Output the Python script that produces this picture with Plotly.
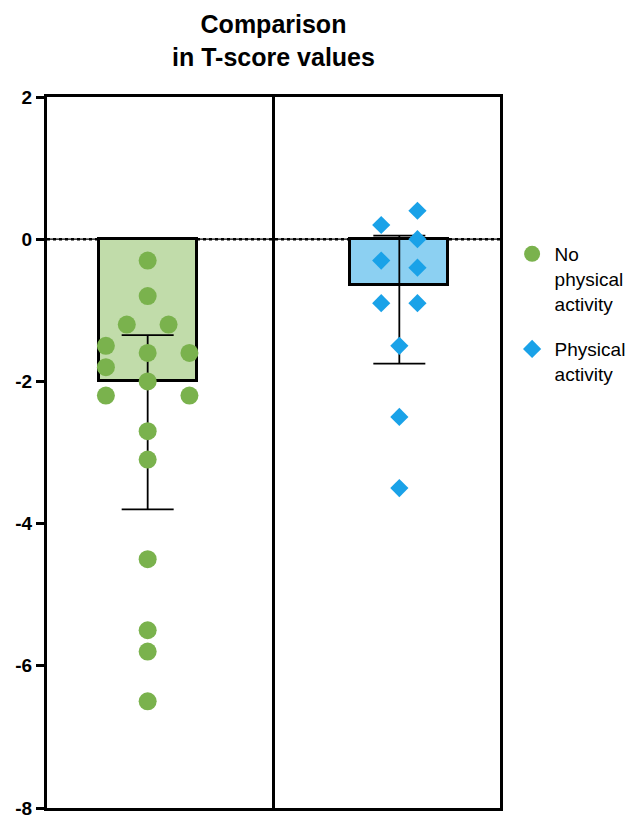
import numpy as np
import plotly.graph_objects as go

# ---- data ----
groups = ["No<br>physical<br>activity", "Physical<br>activity"]
no_activity = [-0.3, -0.8, -1.2, -1.2, -1.5, -1.6, -1.6, -1.8, -2.0, -2.2, -2.2,
               -2.7, -3.1, -4.5, -5.5, -5.8, -6.5]
activity = [0.4, 0.2, 0.0, -0.3, -0.4, -0.9, -0.9, -1.5, -2.5, -3.5]
y_ticks = [2, 0, -2, -4, -6, -8]

# ---- layout of dots (beeswarm columns) ----
no_cols = [0, 0, -1, 1, -2, 0, 2, -2, 0, -2, 2, 0, 0, 0, 0, 0, 0]
act_cols = [1, -1, 1, -1, 1, -1, 1, 0, 0, 0]

def stats(v):
    a = np.array(v)
    med = float(np.median(a))
    q1 = float(np.percentile(a, 25, method="weibull"))
    q3 = float(np.percentile(a, 75, method="weibull"))
    return med, q1, q3

m1, q1a, q3a = stats(no_activity)
m2, q1b, q3b = stats(activity)

GREEN = "rgb(122,178,77)"
GREEN_FILL = "rgb(193,220,170)"
BLUE = "rgb(26,162,232)"
BLUE_FILL = "rgb(140,208,242)"
FONT = "Liberation Sans, Arial, Helvetica, sans-serif"

fig = go.Figure()
fig.add_trace(go.Bar(
    x=[0, 1], y=[m1, m2], width=0.39,
    marker=dict(color=[GREEN_FILL, BLUE_FILL], line=dict(color="black", width=3)),
    error_y=dict(type="data", symmetric=False,
                 array=[q3a - m1, q3b - m2], arrayminus=[m1 - q1a, m2 - q1b],
                 color="black", thickness=1.8, width=26),
    showlegend=False, hoverinfo="skip",
))
fig.add_trace(go.Scatter(
    x=[0 + c * 0.083 for c in no_cols], y=no_activity, mode="markers",
    marker=dict(symbol="circle", size=18, color=GREEN),
    name=groups[0], legendgroup="g1",
))
fig.add_trace(go.Scatter(
    x=[1 + c * 0.072 for c in act_cols], y=activity, mode="markers",
    marker=dict(symbol="diamond", size=14, color=BLUE),
    name=groups[1], legendgroup="g2",
))

# zero reference line and middle divider
fig.add_shape(type="line", xref="paper", yref="y", x0=0, x1=1, y0=0, y1=0,
              line=dict(color="black", width=2.5, dash="dot"), layer="below")
fig.add_shape(type="line", xref="paper", yref="y", x0=0, x1=1, y0=0, y1=0,
              line=dict(color="black", width=1.2), layer="below")
fig.add_shape(type="line", xref="x", yref="paper", x0=0.5, x1=0.5, y0=0, y1=1,
              line=dict(color="black", width=3))

fig.update_layout(
    width=630, height=807,
    margin=dict(l=39, r=134, t=89, b=7),
    paper_bgcolor="white", plot_bgcolor="white",
    font=dict(family=FONT, color="black"),
    title=dict(text="Comparison<br>in T-score values", xref="paper", x=0.5,
               xanchor="center", y=0.969, yanchor="top",
               font=dict(size=25, weight="bold", family=FONT)),
    legend=dict(x=1.0212, xanchor="left", y=0.806, yanchor="top", valign="top",
                font=dict(size=19, family=FONT), itemwidth=35, tracegroupgap=18),
    xaxis=dict(range=[-0.4, 1.4], showgrid=False, zeroline=False, showticklabels=False,
               ticks="", showline=True, linecolor="black", linewidth=3, mirror=True),
    yaxis=dict(range=[-8, 2], tickvals=y_ticks, ticktext=[str(t) for t in y_ticks],
               showgrid=False, zeroline=False, showline=True, linecolor="black",
               linewidth=3, mirror=True, ticks="outside", ticklen=8, tickwidth=2.5,
               tickcolor="black", tickfont=dict(size=19, family=FONT, weight="bold"),
               ticklabeloverflow="allow", automargin=False),
    bargap=0,
)

fig.write_html("out.html")
